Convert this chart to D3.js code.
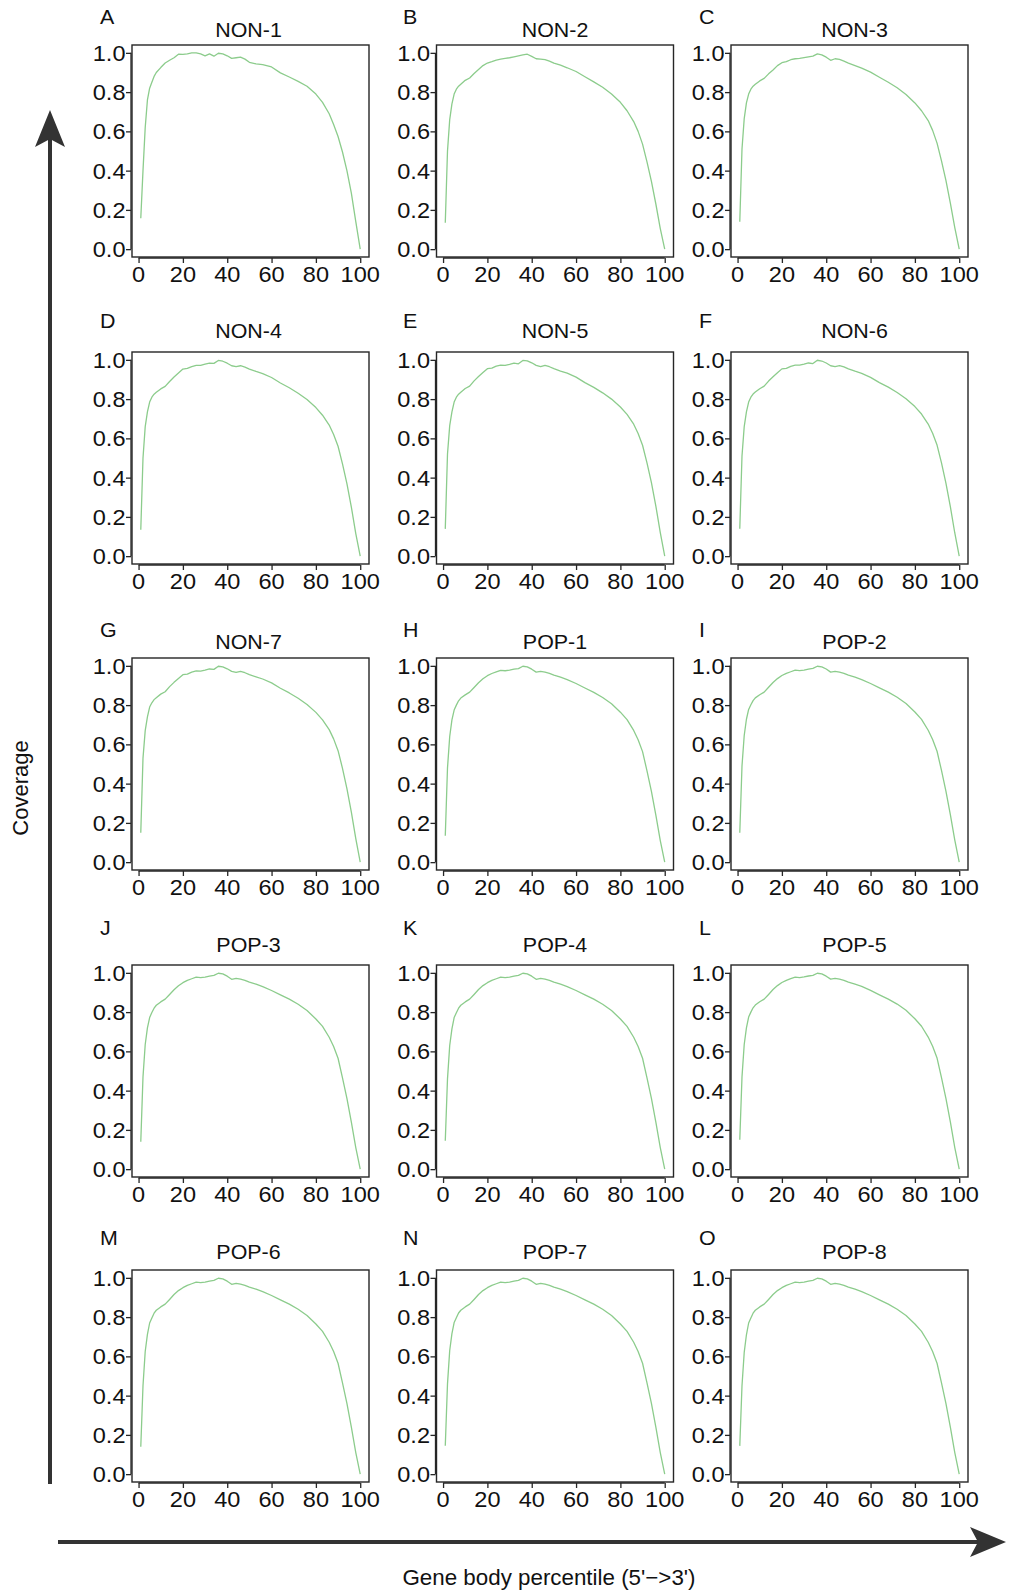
<!DOCTYPE html>
<html>
<head>
<meta charset="utf-8">
<script src="https://cdn.jsdelivr.net/npm/d3@7"></script>
<style>
  html, body { margin: 0; padding: 0; background: #fff; }
  svg { display: block; }
  text { font-family: "Liberation Sans", Arial, Helvetica, sans-serif; fill: #111; }
</style>
</head>
<body>
<svg id="chart" width="1009" height="1591"></svg>
<script>
// ---------------- data ----------------
const percentile = [1,2,3,4,5,6,7,8,10,12,14,16,18,20,22,24,26,28,30,32,34,36,38,40,42,44,46,48,50,53,56,60,64,68,72,76,80,83,86,88,90,92,94,96,98,100];

const panelLetters = ["A","B","C","D","E","F","G","H","I","J","K","L","M","N","O"];
const panelNames = ["NON-1","NON-2","NON-3","NON-4","NON-5","NON-6","NON-7",
                    "POP-1","POP-2","POP-3","POP-4","POP-5","POP-6","POP-7","POP-8"];

const non1 = [0.157,0.40,0.62,0.76,0.82,0.85,0.88,0.90,0.925,0.948,0.962,0.975,0.993,0.992,0.995,1.0,1.0,0.995,0.985,0.995,0.983,0.998,0.995,0.985,0.972,0.975,0.978,0.968,0.952,0.944,0.940,0.928,0.898,0.877,0.855,0.830,0.790,0.748,0.690,0.635,0.574,0.495,0.40,0.285,0.14,0.0];
const non2 = [0.135,0.50,0.66,0.74,0.79,0.815,0.83,0.84,0.86,0.872,0.895,0.915,0.935,0.948,0.955,0.963,0.968,0.972,0.975,0.98,0.985,0.99,0.993,0.982,0.97,0.968,0.966,0.958,0.948,0.937,0.924,0.905,0.878,0.852,0.825,0.79,0.748,0.705,0.65,0.60,0.535,0.445,0.345,0.23,0.105,0.0];
const non3 = [0.14,0.51,0.665,0.745,0.79,0.815,0.83,0.84,0.857,0.87,0.893,0.913,0.935,0.95,0.955,0.965,0.97,0.972,0.976,0.98,0.983,0.995,0.99,0.978,0.962,0.97,0.967,0.958,0.948,0.935,0.922,0.902,0.876,0.85,0.822,0.788,0.745,0.705,0.655,0.605,0.54,0.45,0.35,0.235,0.11,0.0];
const non4 = [0.135,0.50,0.66,0.735,0.785,0.81,0.825,0.835,0.852,0.865,0.89,0.913,0.933,0.953,0.957,0.966,0.972,0.972,0.978,0.983,0.982,0.997,0.993,0.983,0.97,0.966,0.97,0.963,0.953,0.941,0.930,0.910,0.882,0.858,0.830,0.798,0.757,0.718,0.668,0.62,0.56,0.47,0.37,0.25,0.115,0.0];
const non5 = [0.139,0.52,0.665,0.735,0.785,0.81,0.825,0.835,0.854,0.866,0.893,0.915,0.935,0.955,0.958,0.968,0.973,0.972,0.977,0.983,0.980,0.997,0.995,0.985,0.972,0.965,0.972,0.965,0.955,0.943,0.932,0.912,0.884,0.860,0.832,0.800,0.760,0.722,0.672,0.625,0.565,0.475,0.375,0.255,0.12,0.0];
const non6 = [0.14,0.51,0.66,0.735,0.785,0.81,0.826,0.836,0.853,0.866,0.892,0.914,0.934,0.954,0.957,0.967,0.973,0.973,0.978,0.984,0.981,0.998,0.994,0.984,0.97,0.966,0.971,0.964,0.954,0.942,0.931,0.911,0.884,0.861,0.834,0.802,0.762,0.724,0.673,0.626,0.566,0.475,0.372,0.252,0.118,0.0];
const non7 = [0.15,0.53,0.67,0.74,0.79,0.812,0.828,0.838,0.856,0.868,0.894,0.916,0.936,0.955,0.958,0.968,0.974,0.973,0.978,0.984,0.982,0.998,0.995,0.985,0.972,0.967,0.972,0.965,0.955,0.944,0.933,0.913,0.886,0.862,0.835,0.803,0.763,0.725,0.675,0.628,0.568,0.478,0.375,0.255,0.12,0.0];
const pop1 = [0.135,0.48,0.64,0.725,0.775,0.80,0.822,0.836,0.852,0.866,0.89,0.914,0.934,0.95,0.961,0.969,0.977,0.975,0.978,0.983,0.986,0.998,0.995,0.983,0.968,0.972,0.968,0.962,0.953,0.942,0.930,0.910,0.887,0.865,0.839,0.807,0.764,0.726,0.671,0.624,0.563,0.465,0.36,0.24,0.11,0.0];
const pop2 = [0.15,0.49,0.645,0.728,0.778,0.802,0.823,0.837,0.853,0.866,0.891,0.915,0.935,0.951,0.962,0.970,0.978,0.976,0.978,0.983,0.987,0.998,0.995,0.984,0.968,0.972,0.968,0.962,0.953,0.942,0.930,0.910,0.888,0.866,0.840,0.808,0.765,0.727,0.672,0.625,0.565,0.467,0.362,0.242,0.112,0.0];
const pop3 = [0.14,0.47,0.635,0.72,0.772,0.798,0.82,0.835,0.852,0.866,0.89,0.914,0.934,0.95,0.962,0.970,0.978,0.976,0.978,0.983,0.987,0.998,0.995,0.983,0.967,0.972,0.968,0.962,0.953,0.942,0.930,0.910,0.888,0.866,0.840,0.808,0.765,0.727,0.672,0.625,0.565,0.465,0.36,0.24,0.11,0.0];
const pop4 = [0.145,0.46,0.63,0.715,0.772,0.797,0.82,0.835,0.852,0.866,0.89,0.915,0.935,0.95,0.962,0.970,0.978,0.976,0.978,0.983,0.987,0.998,0.995,0.983,0.967,0.972,0.968,0.962,0.953,0.942,0.930,0.910,0.888,0.866,0.840,0.808,0.765,0.727,0.672,0.625,0.565,0.465,0.36,0.24,0.11,0.0];
const pop5 = [0.15,0.47,0.635,0.72,0.775,0.80,0.822,0.836,0.853,0.866,0.89,0.915,0.935,0.951,0.962,0.971,0.978,0.976,0.979,0.984,0.987,0.998,0.995,0.983,0.968,0.972,0.968,0.962,0.953,0.942,0.931,0.911,0.888,0.866,0.841,0.809,0.766,0.728,0.673,0.626,0.566,0.466,0.361,0.241,0.11,0.0];
const pop6 = [0.14,0.45,0.625,0.712,0.77,0.795,0.82,0.835,0.852,0.866,0.89,0.915,0.935,0.95,0.962,0.970,0.978,0.976,0.978,0.983,0.987,0.998,0.995,0.983,0.967,0.972,0.968,0.962,0.953,0.942,0.930,0.910,0.888,0.866,0.840,0.808,0.765,0.727,0.672,0.625,0.565,0.465,0.36,0.24,0.11,0.0];
const pop7 = [0.145,0.46,0.63,0.716,0.772,0.797,0.821,0.835,0.852,0.866,0.89,0.915,0.935,0.95,0.962,0.970,0.978,0.976,0.978,0.983,0.987,0.998,0.995,0.983,0.967,0.972,0.968,0.962,0.953,0.942,0.930,0.910,0.888,0.866,0.840,0.808,0.765,0.727,0.672,0.625,0.565,0.465,0.36,0.24,0.11,0.0];
const pop8 = [0.144,0.45,0.62,0.71,0.77,0.795,0.82,0.835,0.852,0.866,0.89,0.915,0.935,0.95,0.962,0.970,0.978,0.976,0.978,0.983,0.987,0.998,0.995,0.983,0.967,0.972,0.968,0.962,0.953,0.942,0.930,0.910,0.888,0.866,0.840,0.808,0.765,0.727,0.672,0.625,0.565,0.465,0.36,0.24,0.11,0.0];

const coverageSeries = [non1,non2,non3,non4,non5,non6,non7,pop1,pop2,pop3,pop4,pop5,pop6,pop7,pop8];

const xTicks = [0,20,40,60,80,100];
const yTicks = [0.0,0.2,0.4,0.6,0.8,1.0];
const xAxisTitle = "Gene body percentile (5'\u2212>3')";
const yAxisTitle = "Coverage";

// ---------------- layout ----------------
const colLeft = [132, 436.5, 731];
const rowTop = [45, 352, 658, 965, 1270];
const letterBaseline = [24, 328, 637, 935, 1245];
const titleBaseline = [36.5, 337.5, 649, 951.5, 1259];
const letterX = [100, 403, 699];
const titleShift = [-2, 0, 5];
const W = 237, H = 212;
const ink = "#262626";
const lineColor = "#8ccc8c";
const fs = 22;
const sx = 1.07;

const svg = d3.select("#chart");

const x = d3.scaleLinear().domain([-2.96, 103.96]).range([0, W]);
const y = d3.scaleLinear().domain([-0.04, 1.04]).range([H, 0]);
const fmt = d3.format(".1f");

function stretchedText(parent, px, py, str, anchor, size, k) {
  const g = parent.append("g").attr("transform", `translate(${px},${py}) scale(${k || sx},1)`);
  g.append("text").attr("text-anchor", anchor).attr("font-size", size).text(str);
  return g;
}

const line = d3.line().x(d => x(d[0])).y(d => y(d[1]));

coverageSeries.forEach((vals, i) => {
  const r = Math.floor(i / 3), c = i % 3;
  const g = svg.append("g").attr("transform", `translate(${colLeft[c]},${rowTop[r]})`);

  g.append("path")
    .datum(percentile.map((p, k) => [p, vals[k]]))
    .attr("d", line)
    .attr("fill", "none")
    .attr("stroke", lineColor)
    .attr("stroke-width", 1.3)
    .attr("stroke-linejoin", "round");

  g.append("rect").attr("x", 0).attr("y", 0).attr("width", W).attr("height", H)
    .attr("fill", "none").attr("stroke", ink).attr("stroke-width", 1.4);

  const ya = g.append("g").attr("transform", "translate(-1,0)")
    .call(d3.axisLeft(y).tickValues(yTicks).tickSize(5).tickSizeOuter(0).tickFormat(""));
  ya.select(".domain").remove();
  ya.selectAll("line").attr("stroke", ink).attr("stroke-width", 1.3);
  ya.append("line").attr("x1", 0).attr("x2", 0).attr("y1", y(0)).attr("y2", y(1))
    .attr("stroke", ink).attr("stroke-width", 1.3);
  yTicks.forEach(t => stretchedText(g, -6.5, y(t) + 7.9, fmt(t), "end", fs));

  const xa = g.append("g").attr("transform", `translate(0,${H + 1})`)
    .call(d3.axisBottom(x).tickValues(xTicks).tickSize(5).tickSizeOuter(0).tickFormat(""));
  xa.select(".domain").remove();
  xa.selectAll("line").attr("stroke", ink).attr("stroke-width", 1.3);
  xa.append("line").attr("x1", x(0)).attr("x2", x(100)).attr("y1", 0).attr("y2", 0)
    .attr("stroke", ink).attr("stroke-width", 1.3);
  xTicks.forEach(t => stretchedText(g, x(t), H + 25, String(t), "middle", fs));

  stretchedText(svg, colLeft[c] + W / 2 + titleShift[c], titleBaseline[r], panelNames[i], "middle", 21, 1.02);
  stretchedText(svg, letterX[c], letterBaseline[r], panelLetters[i], "start", 21, 1.02);
});

// ---------------- big arrows ----------------
const arrowInk = "#333333";
svg.append("line").attr("x1", 50).attr("x2", 50).attr("y1", 1484).attr("y2", 138)
  .attr("stroke", arrowInk).attr("stroke-width", 4);
svg.append("path").attr("d", "M50,110 L65,147 L50,139 L35,147 Z").attr("fill", arrowInk);
svg.append("line").attr("x1", 58).attr("x2", 980).attr("y1", 1542).attr("y2", 1542)
  .attr("stroke", arrowInk).attr("stroke-width", 4);
svg.append("path").attr("d", "M1006,1542 L970,1557 L978,1542 L970,1527 Z").attr("fill", arrowInk);

svg.append("g").attr("transform", "translate(27.5,788) rotate(-90)")
  .append("text").attr("text-anchor", "middle").attr("font-size", 22).text(yAxisTitle);
stretchedText(svg, 549, 1585, xAxisTitle, "middle", 21.5, 1.04);
</script>
</body>
</html>
